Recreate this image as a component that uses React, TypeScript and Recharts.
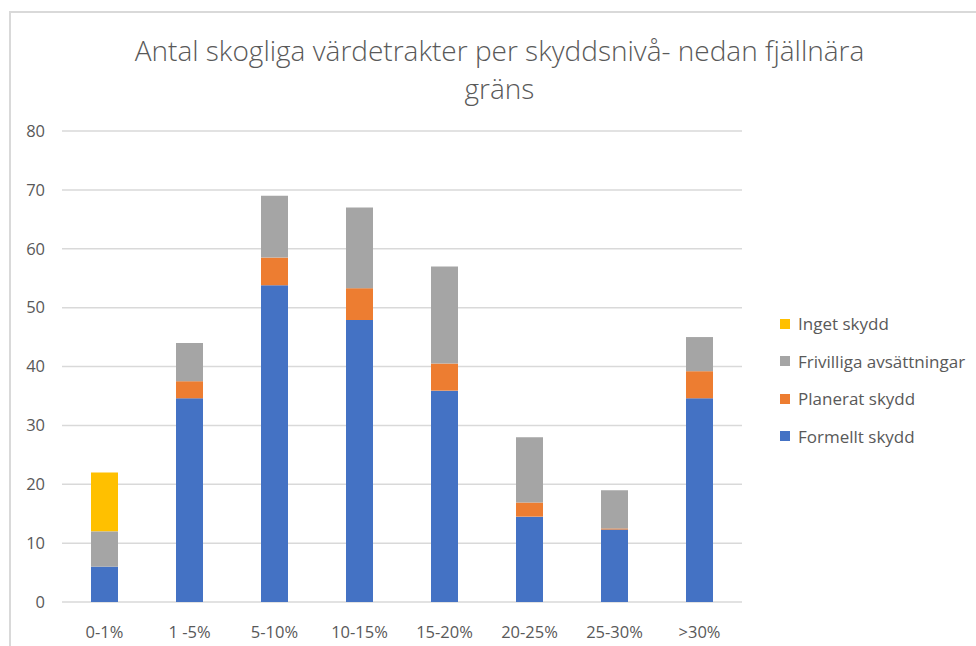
import { Bar, BarChart, CartesianGrid, XAxis, YAxis } from "recharts";

const categories = ["0-1%", "1 -5%", "5-10%", "10-15%", "15-20%", "20-25%", "25-30%", ">30%"];
const formellt = [6, 34.6, 53.8, 47.9, 35.9, 14.5, 12.3, 34.6];
const planerat = [0, 2.9, 4.7, 5.4, 4.6, 2.4, 0.2, 4.6];
const frivilliga = [6, 6.5, 10.5, 13.7, 16.5, 11.1, 6.5, 5.8];
const inget = [10, 0, 0, 0, 0, 0, 0, 0];
const yTicks = [0, 10, 20, 30, 40, 50, 60, 70, 80];

const data = categories.map((name, i) => ({
  name,
  formellt: formellt[i],
  planerat: planerat[i],
  frivilliga: frivilliga[i],
  inget: inget[i],
}));

const series = [
  { key: "formellt", name: "Formellt skydd", color: "#4472C4" },
  { key: "planerat", name: "Planerat skydd", color: "#ED7D31" },
  { key: "frivilliga", name: "Frivilliga avsättningar", color: "#A5A5A5" },
  { key: "inget", name: "Inget skydd", color: "#FFC000" },
];

const font = "'Open Sans', Lato, sans-serif";
const textColor = "#595959";

// legend sits outside the chart so it doesn't eat plot height
function LegendList() {
  return (
    <div style={{ position: "absolute", left: 780, top: 305, fontFamily: font, fontSize: 17, color: textColor }}>
      {[...series].reverse().map((s) => (
        <div key={s.key} style={{ display: "flex", alignItems: "center", height: 37.5 }}>
          <span style={{ width: 10, height: 10, background: s.color, marginRight: 8 }} />
          <span>{s.name}</span>
        </div>
      ))}
    </div>
  );
}

export default function App() {
  return (
    <div style={{ position: "absolute", left: 0, top: 0, width: 976, height: 646, overflow: "hidden", background: "#fff" }}>
      <div
        style={{
          position: "absolute",
          left: 9,
          top: 11,
          width: 1000,
          height: 700,
          border: "2px solid #d9d9d9",
          boxSizing: "border-box",
        }}
      />
      <div
        style={{
          position: "absolute",
          left: 100,
          width: 799,
          top: 31,
          textAlign: "center",
          fontFamily: font,
          fontWeight: 300,
          fontSize: 28,
          lineHeight: "38px",
          color: textColor,
        }}
      >
        Antal skogliga värdetrakter per skyddsnivå- nedan fjällnära
        <br />
        gräns
      </div>
      <BarChart
        width={976}
        height={646}
        data={data}
        margin={{ top: 131, right: 234, bottom: 14, left: 0 }}
        style={{ position: "absolute", left: 0, top: 0 }}
      >
        <CartesianGrid vertical={false} stroke="#d9d9d9" strokeWidth={1.5} />
        <XAxis
          dataKey="name"
          axisLine={false}
          tickLine={false}
          height={30}
          tickMargin={18}
          tick={{ fill: textColor, fontSize: 16.5, fontFamily: font }}
        />
        <YAxis
          domain={[0, 80]}
          ticks={yTicks}
          width={62}
          axisLine={false}
          tickLine={false}
          tickMargin={11}
          tick={{ fill: textColor, fontSize: 16.5, fontFamily: font }}
        />
        {series.map((s) => (
          <Bar
            key={s.key}
            dataKey={s.key}
            name={s.name}
            stackId="a"
            fill={s.color}
            barSize={27}
            isAnimationActive={false}
          />
        ))}
      </BarChart>
      <LegendList />
    </div>
  );
}
